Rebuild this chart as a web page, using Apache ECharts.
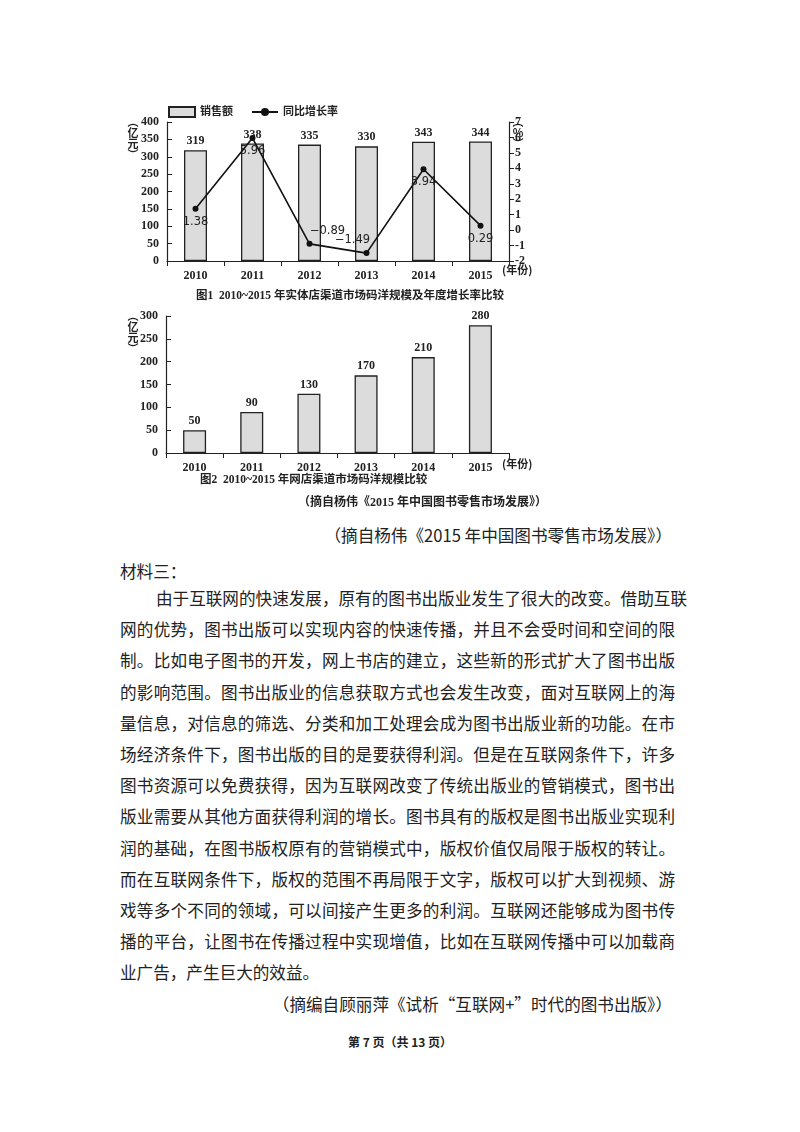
<!DOCTYPE html>
<html><head><meta charset="utf-8">
<script src="https://cdn.jsdelivr.net/npm/echarts@6/dist/echarts.min.js"></script>
<style>
body{margin:0;background:#fff;width:800px;height:1132px;position:relative;overflow:hidden;font-family:"Noto Sans CJK SC",sans-serif;color:#222}
#c{position:absolute;left:0;top:0;width:800px;height:520px}
.t{position:absolute;font-size:16.6px;white-space:nowrap}
.ln{position:absolute;left:120px;width:555px;font-size:16.6px;text-align:justify;text-align-last:justify;white-space:nowrap;line-height:20px}
</style></head><body>
<div id="c"></div>
<div class="t" style="right:128px;top:523px">（摘自杨伟《2015 年中国图书零售市场发展》）</div>
<div class="t" style="left:120px;top:559px">材料三：</div>
<div id="para"></div>
<div class="t" style="right:128px;top:992px">（摘编自顾丽萍《试析“互联网+”时代的图书出版》）</div>
<div class="t" style="left:0;width:800px;text-align:center;top:1033px;font-size:12px;font-weight:bold">第 7 页（共 13 页）</div>
<script>
const years=['2010','2011','2012','2013','2014','2015'];
const storeSales=[319,338,335,330,343,344];
const growthRate=[1.38,5.96,-0.89,-1.49,3.94,0.29];
const onlineSales=[50,90,130,170,210,280];
const paraLines=[
'由于互联网的快速发展，原有的图书出版业发生了很大的改变。借助互联',
'网的优势，图书出版可以实现内容的快速传播，并且不会受时间和空间的限',
'制。比如电子图书的开发，网上书店的建立，这些新的形式扩大了图书出版',
'的影响范围。图书出版业的信息获取方式也会发生改变，面对互联网上的海',
'量信息，对信息的筛选、分类和加工处理会成为图书出版业新的功能。在市',
'场经济条件下，图书出版的目的是要获得利润。但是在互联网条件下，许多',
'图书资源可以免费获得，因为互联网改变了传统出版业的管销模式，图书出',
'版业需要从其他方面获得利润的增长。图书具有的版权是图书出版业实现利',
'润的基础，在图书版权原有的营销模式中，版权价值仅局限于版权的转让。',
'而在互联网条件下，版权的范围不再局限于文字，版权可以扩大到视频、游',
'戏等多个不同的领域，可以间接产生更多的利润。互联网还能够成为图书传',
'播的平台，让图书在传播过程中实现增值，比如在互联网传播中可以加载商',
'业广告，产生巨大的效益。'];
const p=document.getElementById('para');
paraLines.forEach((s,i)=>{const d=document.createElement('div');d.className='ln';d.textContent=s;
 d.style.top=(588+i*31.2)+'px';
 if(i===0){d.style.left='156px';d.style.width='519px';}
 if(i===paraLines.length-1){d.style.textAlign='left';d.style.textAlignLast='left';}
 p.appendChild(d);});

const F='"Liberation Serif","Noto Sans CJK SC",serif';
const lab={fontFamily:F,fontWeight:'bold',fontSize:12,color:'#222'};
const axLine={lineStyle:{color:'#222',width:1.2}};
const ch=echarts.init(document.getElementById('c'));
const barStyle={color:'#dcdcdc',borderColor:'#222',borderWidth:1.3};
const rateLabelPos=['bottom','bottom','top','top','bottom','bottom'];
const rateOffset=[[0,0],[0,0],[18,0],[-14,0],[0,0],[0,0]];
const vt={font:'bold 11px "Noto Sans CJK SC"',fill:'#222',lineHeight:11,align:'center'};
ch.setOption({
 animation:false,
 legend:{left:163,top:101,itemGap:18,itemWidth:26,itemHeight:10,textStyle:{fontFamily:F,fontWeight:'bold',fontSize:11,color:'#222'},
  data:[{name:'销售额',icon:'rect'},{name:'同比增长率'}]},
 grid:[{left:167,right:291,top:122,height:139},{left:166,right:291,top:316,height:137}],
 xAxis:[
  {gridIndex:0,type:'category',data:years,axisLine:axLine,axisTick:{show:true,lineStyle:{color:'#222'}},axisLabel:Object.assign({margin:9},lab)},
  {gridIndex:1,type:'category',data:years,axisLine:axLine,axisTick:{show:true,lineStyle:{color:'#222'}},axisLabel:Object.assign({margin:9},lab)}],
 yAxis:[
  {gridIndex:0,type:'value',min:0,max:400,interval:50,splitLine:{show:false},axisLine:Object.assign({show:true},axLine),axisTick:{show:true,inside:true,lineStyle:{color:'#222'}},axisLabel:lab},
  {gridIndex:0,type:'value',min:-2,max:7,interval:1,position:'right',splitLine:{show:false},axisLine:Object.assign({show:true},axLine),axisTick:{show:true,lineStyle:{color:'#222'}},axisLabel:Object.assign({margin:6},lab)},
  {gridIndex:1,type:'value',min:0,max:300,interval:50,splitLine:{show:false},axisLine:Object.assign({show:true},axLine),axisTick:{show:true,inside:true,lineStyle:{color:'#222'}},axisLabel:lab}],
 series:[
  {name:'销售额',type:'bar',xAxisIndex:0,yAxisIndex:0,data:storeSales,barWidth:23,itemStyle:barStyle,label:Object.assign({show:true,position:'top',distance:3},lab)},
  {name:'同比增长率',type:'line',xAxisIndex:0,yAxisIndex:1,symbol:'circle',symbolSize:6,
   lineStyle:{color:'#111',width:1.6},itemStyle:{color:'#111'},
   data:growthRate.map((v,i)=>({value:v,label:{position:rateLabelPos[i],offset:rateOffset[i]}})),
   label:Object.assign({show:true,distance:4,formatter:p=>p.value<0?'\u2212'+Math.abs(p.value):p.value},lab,{fontWeight:'normal',fontFamily:'"DejaVu Sans",sans-serif',fontSize:11.5})},
  {name:'网店',type:'bar',xAxisIndex:1,yAxisIndex:2,data:onlineSales,barWidth:23,itemStyle:barStyle,label:Object.assign({show:true,position:'top',distance:3},lab)}],
 graphic:[
  {type:'text',x:133,y:116,style:Object.assign({text:'︵\n亿\n元\n︶'},vt)},
  {type:'text',x:518,y:116,style:Object.assign({text:'︵\n%\n︶'},vt)},
  {type:'text',x:502,y:264,style:{text:'(年份)',font:'bold 11px "Noto Sans CJK SC"',fill:'#222'}},
  {type:'text',x:350,y:296,style:{text:'图1  2010~2015 年实体店渠道市场码洋规模及年度增长率比较',font:'bold 11.5px "Liberation Serif","Noto Sans CJK SC"',fill:'#222',align:'center',verticalAlign:'middle'}},
  {type:'text',x:133,y:310,style:Object.assign({text:'︵\n亿\n元\n︶'},vt)},
  {type:'text',x:502,y:458,style:{text:'(年份)',font:'bold 11px "Noto Sans CJK SC"',fill:'#222'}},
  {type:'text',x:200,y:480,style:{text:'图2  2010~2015 年网店渠道市场码洋规模比较',font:'bold 11.5px "Liberation Serif","Noto Sans CJK SC"',fill:'#222',verticalAlign:'middle'}},
  {type:'text',x:298,y:503,style:{text:'（摘自杨伟《2015 年中国图书零售市场发展》）',font:'bold 12px "Liberation Serif","Noto Sans CJK SC"',fill:'#222',verticalAlign:'middle'}}
 ]
});
</script></body></html>
